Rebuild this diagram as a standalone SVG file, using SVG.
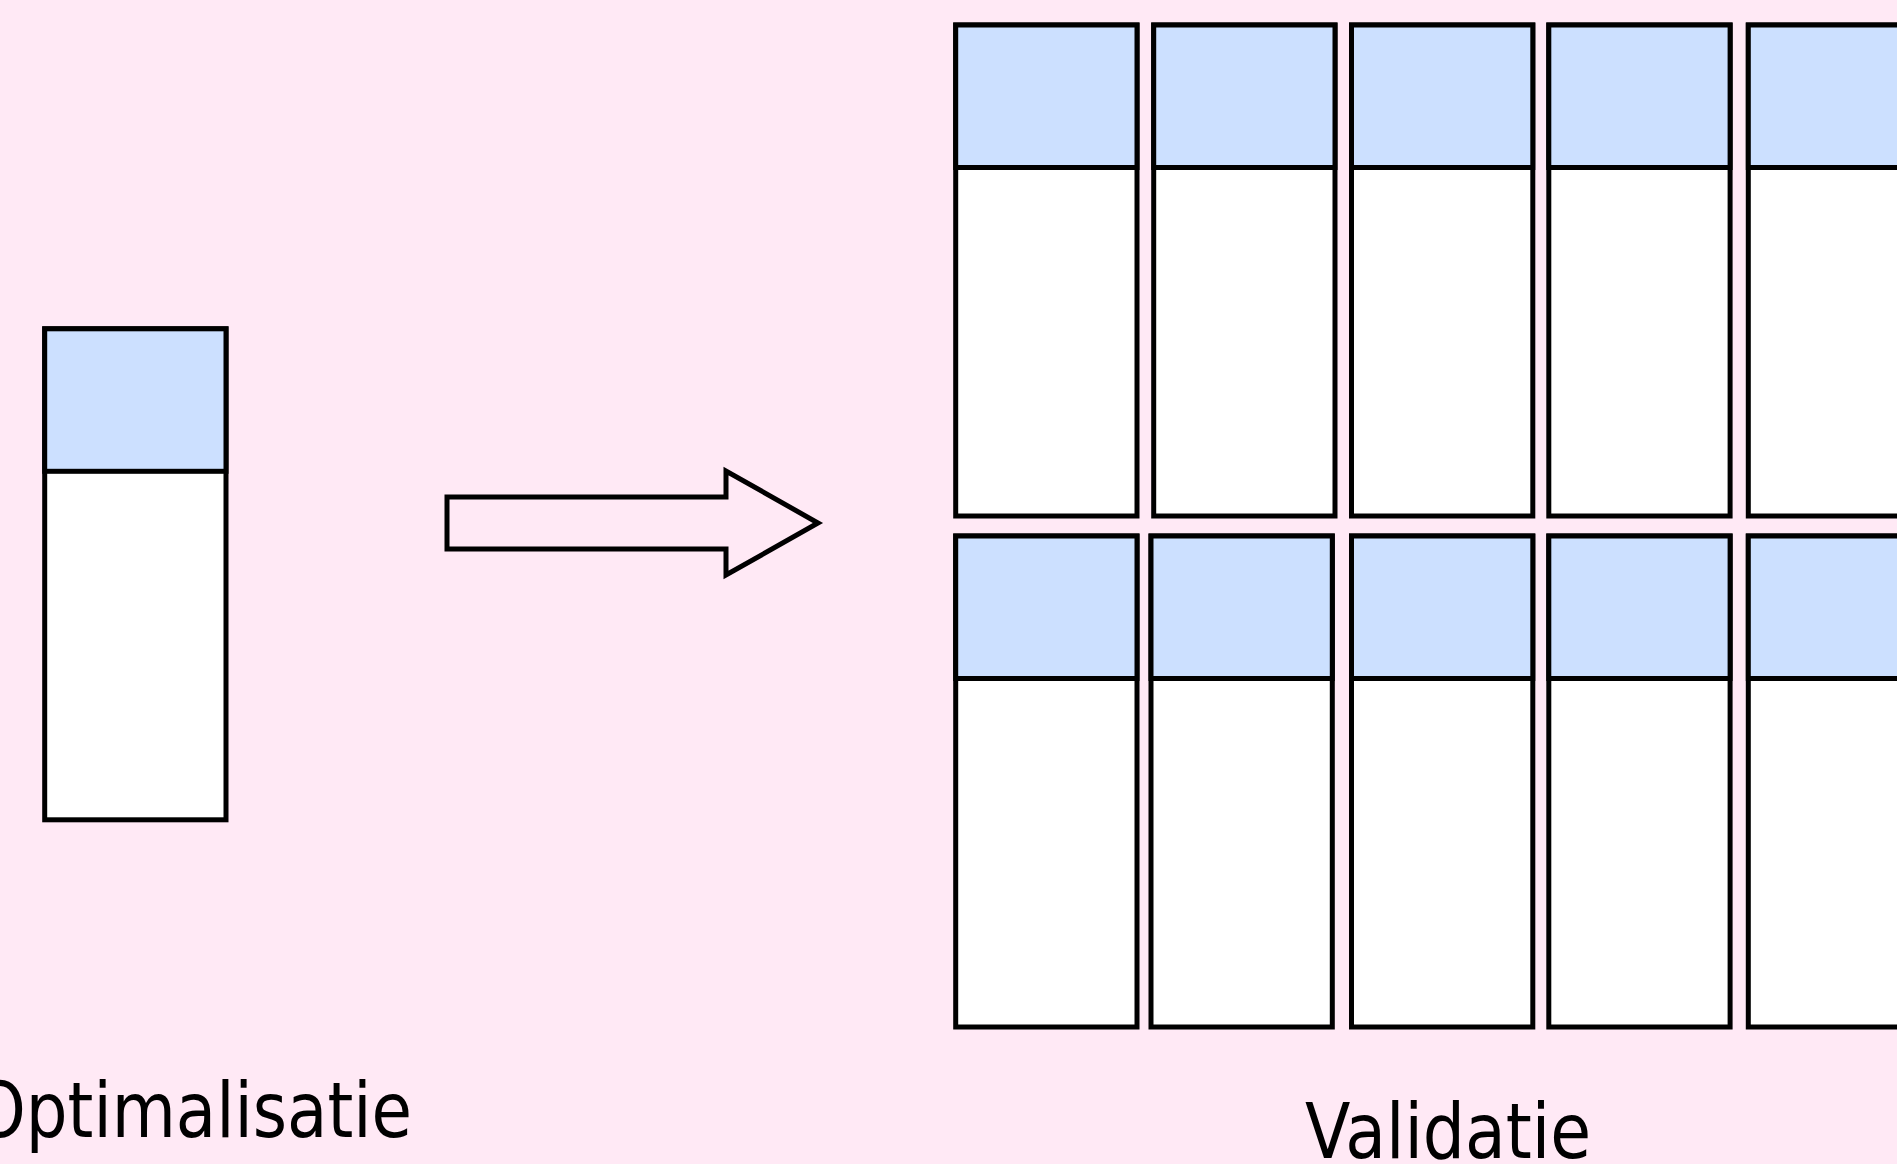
<svg xmlns="http://www.w3.org/2000/svg" width="1897" height="1164" viewBox="0 0 1897 1164">
  <style>
    .body { fill: #FFFFFF; stroke: #000000; stroke-width: 5; }
    .head { fill: #CCE0FF; stroke: #000000; stroke-width: 5; }
    .label { font-family: "DejaVu Sans", "Liberation Sans", sans-serif; font-size: 76px; fill: #000000; }
  </style>
  <defs>
    <g id="block">
      <rect class="body" x="0" y="0" width="181.3" height="491"/>
      <rect class="head" x="0" y="0" width="181.3" height="142.5"/>
    </g>
  </defs>
  <rect x="0" y="0" width="1897" height="1164" fill="#FFE9F5"/>

  <g id="optimalisatie-block">
    <use href="#block" x="44.7" y="328.8"/>
  </g>

  <g id="connectors">
    <polygon points="447,497 726,497 726,471 818,523 726,575 726,549 447,549" fill="none" stroke="#000000" stroke-width="5"/>
  </g>

  <g id="validatie-row1">
    <use href="#block" x="955.7" y="25"/>
    <use href="#block" x="1153.7" y="25"/>
    <use href="#block" x="1351.5" y="25"/>
    <use href="#block" x="1548.8" y="25"/>
    <use href="#block" x="1748.3" y="25"/>
  </g>
  <g id="validatie-row2">
    <use href="#block" x="955.7" y="536"/>
    <use href="#block" x="1151" y="536"/>
    <use href="#block" x="1351.5" y="536"/>
    <use href="#block" x="1548.8" y="536"/>
    <use href="#block" x="1748.3" y="536"/>
  </g>

  <g id="labels">
    <text class="label" x="-26" y="1137" textLength="438" lengthAdjust="spacingAndGlyphs">Optimalisatie</text>
    <text class="label" x="1305" y="1158" textLength="286" lengthAdjust="spacingAndGlyphs">Validatie</text>
  </g>
</svg>
